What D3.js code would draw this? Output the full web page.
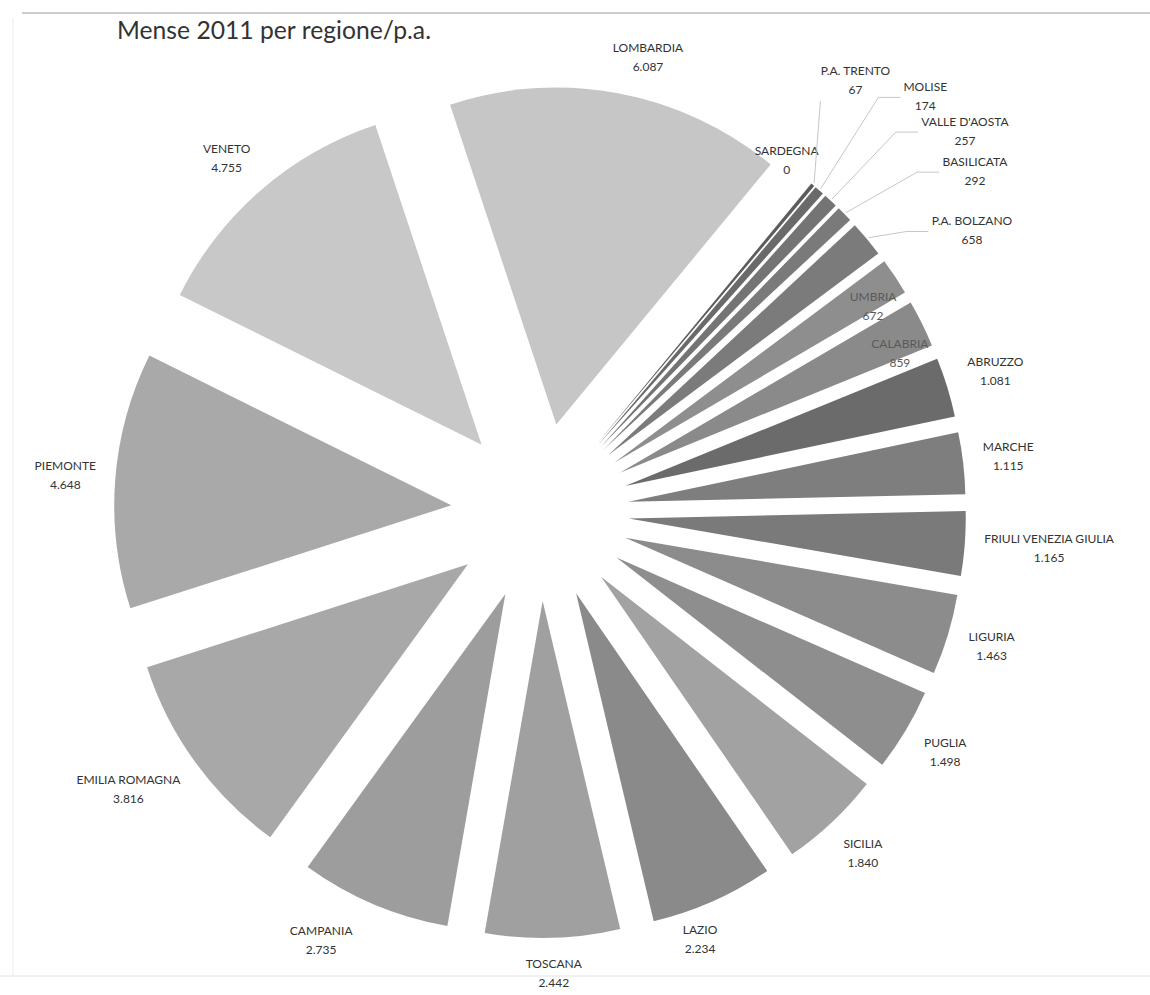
<!DOCTYPE html>
<html>
<head>
<meta charset="utf-8">
<script src="https://cdn.jsdelivr.net/npm/d3@7"></script>
<style>
  body { margin: 0; background: #fff; }
  text { font-family: Lato, "Open Sans", sans-serif; }
</style>
</head>
<body>
<div id="chart"></div>
<script>
// Mense 2011 per regione/p.a. (sorted as in the original, clockwise)
const regions = ["SARDEGNA", "P.A. TRENTO", "MOLISE", "VALLE D'AOSTA", "BASILICATA",
  "P.A. BOLZANO", "UMBRIA", "CALABRIA", "ABRUZZO", "MARCHE", "FRIULI VENEZIA GIULIA",
  "LIGURIA", "PUGLIA", "SICILIA", "LAZIO", "TOSCANA", "CAMPANIA", "EMILIA ROMAGNA",
  "PIEMONTE", "VENETO", "LOMBARDIA"];
const mense = [0, 67, 174, 257, 292, 658, 672, 859, 1081, 1115, 1165,
  1463, 1498, 1840, 2234, 2442, 2735, 3816, 4648, 4755, 6087];

// grey shades of the printed chart
const shades = ["#8a8a8a", "#5c5c5c", "#6a6a6a", "#747474", "#7a7a7a",
  "#7b7b7b", "#8e8e8e", "#8a8a8a", "#6b6b6b", "#7e7e7e", "#7a7a7a",
  "#8c8c8c", "#8e8e8e", "#a2a2a2", "#8a8a8a", "#a0a0a0", "#9d9d9d", "#a8a8a8",
  "#a9a9a9", "#c8c8c8", "#c6c6c6"];

// labels moved by hand in the original: [angle in degrees, distance from centre]
const labelMoved = {
  "SARDEGNA": [35.1, 429],
  "P.A. TRENTO": [36.2, 534],
  "MOLISE": [42.9, 566],
  "VALLE D'AOSTA": [48.2, 570],
  "BASILICATA": [52, 552],
  "P.A. BOLZANO": [57, 515],
  "UMBRIA": [58.4, 391],
  "CALABRIA": [66.3, 393],
  "LAZIO": [159.5, 457],
  "CAMPANIA": [207, 482],
  "EMILIA ROMAGNA": [235.9, 497],
  "VENETO": [318.4, 472],
  "LOMBARDIA": [13.4, 466]
};
const withLeader = ["P.A. TRENTO", "MOLISE", "VALLE D'AOSTA", "BASILICATA", "P.A. BOLZANO"];

const W = 1150, H = 995;
const cx = 540, cy = 512, radius = 337, explode = 89;
const startDeg = 39.5;

const it = d3.formatLocale({ decimal: ",", thousands: ".", grouping: [3], currency: ["", "€"] });
const fmt = it.format(",");

const svg = d3.select("#chart").append("svg")
  .attr("width", W)
  .attr("height", H);

// page frame lines from the scan
svg.append("line").attr("x1", 22).attr("x2", W).attr("y1", 13).attr("y2", 13)
  .attr("stroke", "#9a9a9a").attr("stroke-width", 1.2);
svg.append("line").attr("x1", 0).attr("x2", W).attr("y1", 976).attr("y2", 976)
  .attr("stroke", "#e2e2e2").attr("stroke-width", 1);
svg.append("line").attr("x1", 13).attr("x2", 13).attr("y1", 18).attr("y2", 976)
  .attr("stroke", "#ececec").attr("stroke-width", 1);

svg.append("text")
  .attr("x", 117)
  .attr("y", 39)
  .attr("font-size", 24.7)
  .attr("fill", "#333")
  .text("Mense 2011 per regione/p.a.");

const data = regions.map((r, i) => ({ name: r, value: mense[i], shade: shades[i] }));

const pie = d3.pie()
  .sort(null)
  .value(d => d.value)
  .startAngle(startDeg * Math.PI / 180)
  .endAngle(startDeg * Math.PI / 180 + 2 * Math.PI);

const arc = d3.arc().innerRadius(0).outerRadius(radius);
const arcs = pie(data);

const g = svg.append("g").attr("transform", `translate(${cx},${cy})`);

const mid = d => (d.startAngle + d.endAngle) / 2;

g.selectAll("path.slice")
  .data(arcs)
  .join("path")
  .attr("class", "slice")
  .attr("d", arc)
  .attr("fill", d => d.data.shade)
  .attr("transform", d => {
    const a = mid(d);
    return `translate(${explode * Math.sin(a)},${-explode * Math.cos(a)})`;
  });

// labels
const lab = g.selectAll("g.lab")
  .data(arcs)
  .join("g")
  .attr("class", "lab");

const faded = d => (d.data.name === "UMBRIA" || d.data.name === "CALABRIA") ? "#5a5a5a" : "#333";

lab.append("text")
  .attr("text-anchor", "middle")
  .attr("dominant-baseline", "middle")
  .attr("y", -9.5)
  .attr("font-size", 12)
  .attr("fill", faded)
  .text(d => d.data.name);
lab.append("text")
  .attr("text-anchor", "middle")
  .attr("dominant-baseline", "middle")
  .attr("y", 9.5)
  .attr("font-size", 12)
  .attr("fill", faded)
  .text(d => fmt(d.data.value));

const hh = 18, gap = 18;
lab.each(function (d) {
  const box = this.getBBox();
  const hw = box.width / 2;
  let a, r;
  if (labelMoved[d.data.name]) {
    a = labelMoved[d.data.name][0] * Math.PI / 180;
    r = labelMoved[d.data.name][1];
  } else {
    a = mid(d);
    r = radius + explode + gap + hw * Math.abs(Math.sin(a)) + hh * Math.abs(Math.cos(a));
  }
  d.lx = r * Math.sin(a);
  d.ly = -r * Math.cos(a);
  d.hw = hw;
  d3.select(this).attr("transform", `translate(${d.lx},${d.ly})`);
});

// leader lines for the crowded small slices
g.selectAll("path.leader")
  .data(arcs.filter(d => withLeader.includes(d.data.name)))
  .join("path")
  .attr("class", "leader")
  .attr("fill", "none")
  .attr("stroke", "#b8b8b8")
  .attr("stroke-width", 0.8)
  .attr("d", d => {
    const a = mid(d);
    const sx = (radius + explode + 2) * Math.sin(a);
    const sy = -(radius + explode + 2) * Math.cos(a);
    const left = d.lx - d.hw;
    if (sx > left - 25) {
      return `M${sx},${sy}L${left},${d.ly + hh + 2}`;
    }
    return `M${sx},${sy}L${left - 25},${d.ly}L${left - 3},${d.ly}`;
  });
</script>
</body>
</html>
